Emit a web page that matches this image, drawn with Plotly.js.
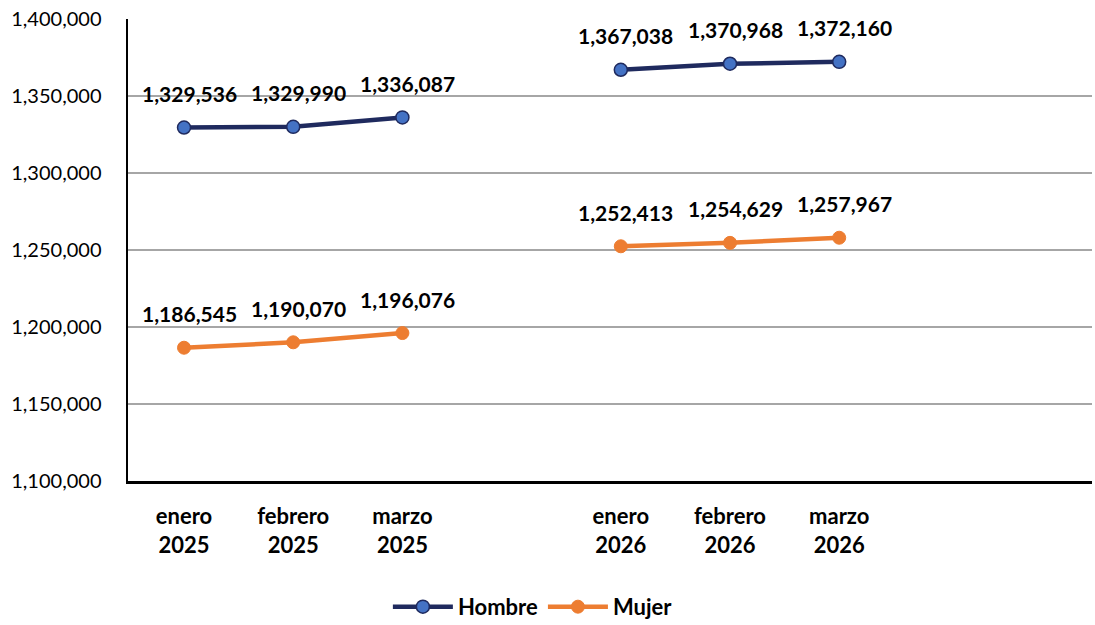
<!DOCTYPE html>
<html>
<head>
<meta charset="utf-8">
<script src="https://cdn.plot.ly/plotly-3.0.1.min.js"></script>
<style>html,body{margin:0;padding:0;background:#fff;}#chart{width:1095px;height:625px;}</style>
</head>
<body>
<div id="chart"></div>
<script>
// Category labels (null = empty gap slot between years)
const categories = ["enero<br>2025", "febrero<br>2025", "marzo<br>2025", null, "enero<br>2026", "febrero<br>2026", "marzo<br>2026"];
const hombre = [1329536, 1329990, 1336087, null, 1367038, 1370968, 1372160];
const mujer  = [1186545, 1190070, 1196076, null, 1252413, 1254629, 1257967];
const seriesNames = ["Hombre", "Mujer"];
const yTicks = [1100000, 1150000, 1200000, 1250000, 1300000, 1350000, 1400000];

const xIdx = categories.map((c, i) => i);
const tickIdx = xIdx.filter(i => categories[i] !== null);
const tickText = tickIdx.map(i => categories[i]);

const fmt = v => v.toLocaleString('en-US');

const FONT = 'Lato, "Noto Sans", sans-serif';
const labelFont = {family: FONT, size: 21, color: '#000', weight: 'bold'};

const traces = [
  {
    x: xIdx, y: hombre, name: seriesNames[0], type: 'scatter', mode: 'lines+markers',
    connectgaps: false,
    line: {color: '#1F2A5E', width: 4.5},
    marker: {color: '#4472C4', size: 13, line: {color: '#1F2A5E', width: 1.5}}
  },
  {
    x: xIdx, y: mujer, name: seriesNames[1], type: 'scatter', mode: 'lines+markers',
    connectgaps: false,
    line: {color: '#ED7D31', width: 4.5},
    marker: {color: '#ED7D31', size: 13, line: {color: '#ED7D31', width: 1}}
  }
];

const annotations = [];
[hombre, mujer].forEach(arr => {
  arr.forEach((v, i) => {
    if (v === null) return;
    annotations.push({
      x: i, y: v, xref: 'x', yref: 'y', text: fmt(v), showarrow: false,
      yshift: 34, xshift: 5, font: labelFont
    });
  });
});

const layout = {
  width: 1095, height: 625,
  margin: {l: 128, r: 3, t: 19, b: 144, autoexpand: false},
  paper_bgcolor: '#fff', plot_bgcolor: '#fff',
  showlegend: true,
  legend: {
    orientation: 'h', x: 0.42, xanchor: 'center',
    yref: 'container', y: 0.029, yanchor: 'middle',
    font: {family: FONT, size: 22, color: '#000', weight: 'bold'},
    itemwidth: 60, traceorder: 'normal'
  },
  xaxis: {
    range: [-0.513, 8.315],
    tickvals: tickIdx, ticktext: tickText,
    showgrid: false, zeroline: false,
    showline: true, linecolor: '#000', linewidth: 2.5,
    ticks: '', ticklabelstandoff: 14, automargin: false,
    tickfont: {family: FONT, size: 22, color: '#000', weight: 'bold'}
  },
  yaxis: {
    range: [1100000, 1400000],
    tickvals: yTicks, tickformat: ',d',
    showgrid: true, gridcolor: '#A6A6A6', gridwidth: 1.5,
    zeroline: false,
    showline: true, linecolor: '#000', linewidth: 2.5,
    ticks: '', ticklabelstandoff: 20, automargin: false,
    tickfont: {family: FONT, size: 20, color: '#000'}
  },
  annotations: annotations
};

Plotly.newPlot('chart', traces, layout, {displayModeBar: false, staticPlot: true});
</script>
</body>
</html>
